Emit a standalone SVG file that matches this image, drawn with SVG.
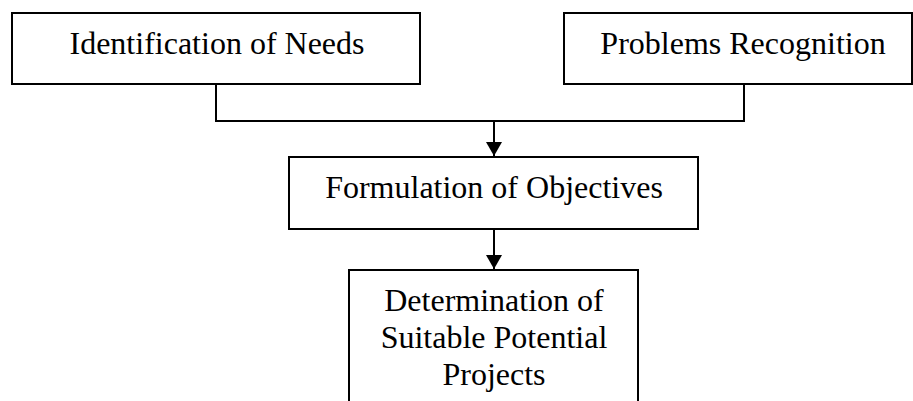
<svg xmlns="http://www.w3.org/2000/svg" width="913" height="401" viewBox="0 0 913 401">
<style>
.box{fill:#fff;stroke:#000;stroke-width:2}
.lbl{font-family:"Liberation Serif","Times New Roman",serif;font-size:32px;fill:#000;text-anchor:middle}
.con{fill:none;stroke:#000;stroke-width:2}
</style>
<defs>
<marker id="arr" markerWidth="14" markerHeight="16" refX="14" refY="8" orient="auto" markerUnits="userSpaceOnUse">
<path d="M0,0 L14,8 L0,16 Z" fill="#000"/>
</marker>
</defs>
<rect width="913" height="401" fill="#fff"/>
<g id="connectors">
<path class="con" d="M216,84 V121 H744 V84"/>
<line class="con" x1="494" y1="121" x2="494" y2="156" marker-end="url(#arr)"/>
<line class="con" x1="494" y1="229" x2="494" y2="269" marker-end="url(#arr)"/>
</g>
<g id="node-needs">
<rect class="box" x="12" y="13" width="408" height="71"/>
<text class="lbl" x="217" y="54">Identification of Needs</text>
</g>
<g id="node-problems">
<rect class="box" x="564" y="13" width="348" height="71"/>
<text class="lbl" x="743" y="54">Problems Recognition</text>
</g>
<g id="node-objectives">
<rect class="box" x="289" y="157" width="409" height="72"/>
<text class="lbl" x="494" y="198">Formulation of Objectives</text>
</g>
<g id="node-projects">
<rect class="box" x="349" y="270" width="289" height="140"/>
<text class="lbl" x="494" y="311">Determination of</text>
<text class="lbl" x="494" y="348">Suitable Potential</text>
<text class="lbl" x="494" y="385">Projects</text>
</g>
</svg>
